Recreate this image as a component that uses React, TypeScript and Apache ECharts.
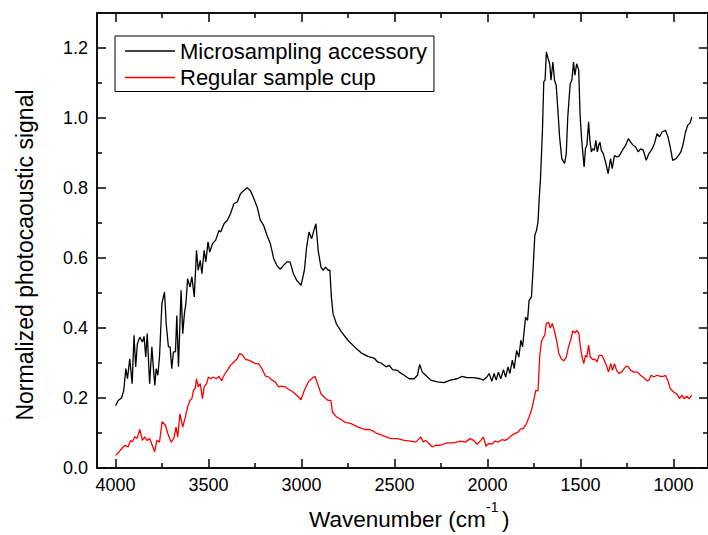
import React, { useEffect, useRef } from "react";
import * as echarts from "echarts";

const seriesNames = ["Microsampling accessory", "Regular sample cup"];

const microsamplingAccessory: [number, number][] = [
  [4000, 0.178], [3986, 0.193], [3968, 0.2], [3956, 0.222], [3945, 0.284], [3936, 0.255], [3924, 0.312], [3911, 0.241],
  [3901, 0.379], [3892, 0.289], [3883, 0.355], [3870, 0.374], [3856, 0.36], [3847, 0.376], [3838, 0.317], [3830, 0.384],
  [3817, 0.241], [3805, 0.346], [3796, 0.279], [3789, 0.236], [3782, 0.284], [3773, 0.265], [3764, 0.317], [3751, 0.47],
  [3737, 0.503], [3728, 0.412], [3716, 0.346], [3707, 0.346], [3698, 0.284], [3689, 0.332], [3678, 0.332], [3671, 0.436],
  [3662, 0.289], [3648, 0.508], [3639, 0.384], [3630, 0.441], [3622, 0.47], [3613, 0.541], [3600, 0.517], [3590, 0.546],
  [3577, 0.489], [3565, 0.622], [3556, 0.565], [3545, 0.593], [3536, 0.555], [3524, 0.622], [3515, 0.589], [3503, 0.646],
  [3494, 0.617], [3479, 0.641], [3462, 0.651], [3444, 0.679], [3435, 0.674], [3417, 0.698], [3399, 0.708], [3382, 0.727],
  [3364, 0.755], [3346, 0.76], [3328, 0.784], [3311, 0.793], [3293, 0.801], [3275, 0.792], [3257, 0.77], [3239, 0.746],
  [3222, 0.708], [3204, 0.693], [3186, 0.665], [3168, 0.641], [3150, 0.598], [3133, 0.579], [3115, 0.568], [3097, 0.579],
  [3079, 0.589], [3062, 0.589], [3044, 0.555], [3026, 0.536], [3003, 0.522], [2985, 0.565], [2973, 0.631], [2960, 0.674],
  [2946, 0.655], [2934, 0.679], [2923, 0.698], [2911, 0.622], [2896, 0.574], [2884, 0.565], [2871, 0.574], [2857, 0.565],
  [2848, 0.565], [2840, 0.489], [2831, 0.441], [2813, 0.412], [2786, 0.389], [2751, 0.365], [2715, 0.346], [2680, 0.329],
  [2644, 0.319], [2608, 0.313], [2591, 0.303], [2573, 0.3], [2555, 0.293], [2546, 0.289], [2528, 0.293], [2511, 0.281],
  [2484, 0.279], [2475, 0.274], [2448, 0.265], [2422, 0.255], [2395, 0.255], [2377, 0.265], [2365, 0.296], [2351, 0.274],
  [2333, 0.265], [2306, 0.251], [2271, 0.246], [2235, 0.244], [2200, 0.251], [2164, 0.255], [2137, 0.262], [2111, 0.258],
  [2075, 0.258], [2040, 0.255], [2022, 0.251], [2004, 0.26], [1992, 0.27], [1977, 0.248], [1965, 0.27], [1954, 0.251],
  [1942, 0.274], [1929, 0.255], [1915, 0.281], [1903, 0.26], [1890, 0.289], [1880, 0.27], [1867, 0.308], [1857, 0.284],
  [1844, 0.336], [1832, 0.317], [1821, 0.365], [1812, 0.346], [1803, 0.393], [1796, 0.431], [1785, 0.422], [1777, 0.479],
  [1764, 0.489], [1755, 0.574], [1746, 0.665], [1737, 0.679], [1729, 0.703], [1723, 0.765], [1716, 0.822], [1705, 0.965],
  [1698, 1.103], [1691, 1.108], [1684, 1.189], [1675, 1.17], [1666, 1.155], [1659, 1.108], [1649, 1.16], [1640, 1.108],
  [1631, 1.093], [1622, 1.022], [1613, 0.946], [1601, 0.884], [1586, 0.87], [1577, 0.898], [1569, 1.003], [1556, 1.098],
  [1547, 1.108], [1538, 1.16], [1531, 1.122], [1521, 1.155], [1510, 1.136], [1503, 1.012], [1494, 0.936], [1481, 0.86],
  [1474, 0.912], [1466, 0.922], [1457, 0.989], [1450, 0.936], [1442, 0.903], [1435, 0.912], [1426, 0.908], [1418, 0.936],
  [1410, 0.903], [1403, 0.922], [1396, 0.931], [1389, 0.908], [1378, 0.898], [1364, 0.87], [1352, 0.841], [1339, 0.884],
  [1330, 0.855], [1318, 0.893], [1307, 0.889], [1293, 0.891], [1275, 0.908], [1258, 0.922], [1243, 0.941], [1231, 0.931],
  [1217, 0.922], [1204, 0.917], [1190, 0.903], [1178, 0.912], [1163, 0.908], [1147, 0.879], [1133, 0.898], [1119, 0.908],
  [1103, 0.927], [1089, 0.955], [1076, 0.946], [1062, 0.96], [1044, 0.965], [1030, 0.946], [1018, 0.917], [1005, 0.879],
  [987, 0.884], [973, 0.893], [961, 0.903], [950, 0.922], [938, 0.955], [925, 0.979], [911, 0.986], [902, 1.003],
];

const regularSampleCup: [number, number][] = [
  [4000, 0.036], [3986, 0.043], [3968, 0.055], [3950, 0.065], [3933, 0.06], [3920, 0.079], [3910, 0.074], [3897, 0.089],
  [3885, 0.084], [3870, 0.11], [3856, 0.079], [3844, 0.089], [3831, 0.079], [3817, 0.084], [3803, 0.065], [3790, 0.046],
  [3778, 0.079], [3764, 0.074], [3750, 0.132], [3732, 0.122], [3719, 0.098], [3702, 0.074], [3687, 0.084], [3675, 0.117],
  [3666, 0.089], [3654, 0.155], [3639, 0.117], [3625, 0.146], [3613, 0.174], [3600, 0.193], [3590, 0.198], [3581, 0.222],
  [3572, 0.227], [3565, 0.255], [3556, 0.232], [3545, 0.241], [3533, 0.198], [3524, 0.232], [3511, 0.241], [3501, 0.26],
  [3488, 0.255], [3474, 0.26], [3458, 0.255], [3444, 0.262], [3430, 0.249], [3417, 0.265], [3399, 0.279], [3382, 0.294],
  [3364, 0.303], [3346, 0.312], [3334, 0.327], [3319, 0.324], [3302, 0.31], [3284, 0.308], [3266, 0.303], [3248, 0.298],
  [3231, 0.298], [3213, 0.284], [3195, 0.263], [3177, 0.26], [3159, 0.251], [3142, 0.246], [3124, 0.232], [3106, 0.234],
  [3088, 0.232], [3071, 0.225], [3053, 0.22], [3035, 0.212], [3017, 0.203], [3003, 0.195], [2985, 0.222], [2964, 0.246],
  [2946, 0.255], [2928, 0.262], [2914, 0.241], [2896, 0.212], [2879, 0.203], [2857, 0.193], [2843, 0.193], [2834, 0.16],
  [2813, 0.146], [2786, 0.138], [2768, 0.131], [2733, 0.127], [2697, 0.117], [2662, 0.11], [2635, 0.11], [2608, 0.103],
  [2591, 0.098], [2555, 0.091], [2520, 0.084], [2484, 0.084], [2448, 0.079], [2413, 0.077], [2386, 0.074], [2368, 0.084],
  [2360, 0.089], [2345, 0.074], [2333, 0.079], [2315, 0.07], [2297, 0.06], [2280, 0.065], [2253, 0.065], [2217, 0.072],
  [2182, 0.072], [2146, 0.077], [2120, 0.074], [2093, 0.084], [2075, 0.079], [2057, 0.068], [2036, 0.079], [2022, 0.089],
  [2009, 0.062], [1995, 0.07], [1977, 0.068], [1960, 0.077], [1942, 0.074], [1924, 0.081], [1906, 0.079], [1889, 0.084],
  [1871, 0.093], [1853, 0.098], [1835, 0.103], [1823, 0.112], [1809, 0.112], [1791, 0.127], [1777, 0.146], [1764, 0.165],
  [1752, 0.193], [1741, 0.222], [1729, 0.22], [1720, 0.317], [1711, 0.36], [1702, 0.372], [1693, 0.379], [1684, 0.413],
  [1672, 0.416], [1663, 0.4], [1652, 0.413], [1640, 0.39], [1627, 0.36], [1617, 0.327], [1604, 0.312], [1590, 0.306],
  [1577, 0.317], [1565, 0.346], [1551, 0.37], [1542, 0.392], [1529, 0.386], [1521, 0.393], [1510, 0.386], [1501, 0.346],
  [1492, 0.317], [1483, 0.298], [1474, 0.322], [1467, 0.317], [1457, 0.351], [1448, 0.317], [1435, 0.31], [1421, 0.31],
  [1412, 0.303], [1400, 0.322], [1386, 0.322], [1373, 0.308], [1361, 0.293], [1350, 0.274], [1338, 0.298], [1329, 0.279],
  [1318, 0.298], [1306, 0.279], [1293, 0.27], [1279, 0.274], [1266, 0.284], [1254, 0.291], [1243, 0.289], [1231, 0.279],
  [1213, 0.274], [1195, 0.274], [1178, 0.265], [1160, 0.258], [1142, 0.249], [1133, 0.251], [1121, 0.265], [1106, 0.26],
  [1089, 0.265], [1071, 0.262], [1053, 0.262], [1044, 0.265], [1032, 0.251], [1018, 0.227], [1000, 0.217], [982, 0.211],
  [968, 0.198], [955, 0.208], [943, 0.198], [929, 0.205], [916, 0.198], [902, 0.208],
];

const xMajorTicks = [1000, 1500, 2000, 2500, 3000, 3500, 4000];
const xMinorTicks = [1250, 1750, 2250, 2750, 3250, 3750];
const yMajorTicks = [0, 0.2, 0.4, 0.6, 0.8, 1.0, 1.2];
const yMinorTicks = [0.1, 0.3, 0.5, 0.7, 0.9, 1.1];

const FONT = "'Liberation Sans', Arial, sans-serif";
const AXIS_COLOR = "#000";

function makeXAxis(position: string, ticks: number[], len: number, labels: boolean) {
  return {
    type: "value",
    position,
    min: 815,
    max: 4100,
    inverse: true,
    axisLine: { show: true, onZero: false, lineStyle: { color: AXIS_COLOR, width: 1.5 } },
    axisTick: { show: true, inside: true, length: len, customValues: ticks, lineStyle: { color: AXIS_COLOR, width: 1.5 } },
    axisLabel: labels
      ? { show: true, customValues: ticks, margin: 8, fontSize: 18, color: "#000", fontFamily: FONT, formatter: (v: number) => String(v) }
      : { show: false },
    splitLine: { show: false },
  };
}

function makeYAxis(position: string, ticks: number[], len: number, labels: boolean) {
  return {
    type: "value",
    position,
    min: 0,
    max: 1.3,
    axisLine: { show: true, onZero: false, lineStyle: { color: AXIS_COLOR, width: 1.5 } },
    axisTick: { show: true, inside: true, length: len, customValues: ticks, lineStyle: { color: AXIS_COLOR, width: 1.5 } },
    axisLabel: labels
      ? { show: true, customValues: ticks, margin: 9, fontSize: 18, color: "#000", fontFamily: FONT, formatter: (v: number) => v.toFixed(1) }
      : { show: false },
    splitLine: { show: false },
  };
}

export default function App() {
  const ref = useRef<HTMLDivElement>(null);
  useEffect(() => {
    if (!ref.current) return;
    const chart = echarts.init(ref.current, undefined, { renderer: "svg" });
    chart.setOption({
      animation: false,
      backgroundColor: "#fff",
      textStyle: { fontFamily: FONT },
      grid: { left: 97, right: -5, top: 13, bottom: 67 },
      xAxis: [
        makeXAxis("bottom", xMajorTicks, 9, true),
        makeXAxis("bottom", xMinorTicks, 5, false),
        makeXAxis("top", xMajorTicks, 9, false),
        makeXAxis("top", xMinorTicks, 5, false),
      ],
      yAxis: [
        makeYAxis("left", yMajorTicks, 9, true),
        makeYAxis("left", yMinorTicks, 5, false),
        makeYAxis("right", yMajorTicks, 9, false),
        makeYAxis("right", yMinorTicks, 5, false),
      ],
      legend: {
        orient: "vertical",
        left: 115,
        top: 36,
        data: seriesNames,
        icon: "rect",
        itemWidth: 50,
        itemHeight: 1.3,
        itemGap: 4.5,
        padding: [4, 7, 3, 10],
        borderColor: "#000",
        borderWidth: 1,
        textStyle: { fontSize: 22, color: "#000", fontFamily: FONT },
      },
      graphic: [
        {
          type: "text",
          x: 25,
          y: 255,
          rotation: Math.PI / 2,
          style: { text: "Normalized photocaoustic signal", fontSize: 23, fontFamily: FONT, fill: "#000", textAlign: "center", textVerticalAlign: "middle" },
        },
        {
          type: "text",
          x: 309,
          y: 519,
          style: { text: "Wavenumber (cm", fontSize: 22.5, fontFamily: FONT, fill: "#000", textAlign: "left", textVerticalAlign: "middle" },
        },
        {
          type: "text",
          x: 486,
          y: 507,
          style: { text: "-1", fontSize: 14, fontFamily: FONT, fill: "#000", textAlign: "left", textVerticalAlign: "middle" },
        },
        {
          type: "text",
          x: 502,
          y: 519,
          style: { text: ")", fontSize: 22.5, fontFamily: FONT, fill: "#000", textAlign: "left", textVerticalAlign: "middle" },
        },
      ],
      series: [
        {
          name: seriesNames[0],
          type: "line",
          xAxisIndex: 0,
          yAxisIndex: 0,
          data: microsamplingAccessory,
          showSymbol: false,
          symbol: "none",
          lineStyle: { color: "#000", width: 1.3 },
          itemStyle: { color: "#000" },
        },
        {
          name: seriesNames[1],
          type: "line",
          xAxisIndex: 0,
          yAxisIndex: 0,
          data: regularSampleCup,
          showSymbol: false,
          symbol: "none",
          lineStyle: { color: "#ff0000", width: 1.3 },
          itemStyle: { color: "#ff0000" },
        },
      ],
    });
    return () => chart.dispose();
  }, []);
  return <div ref={ref} style={{ position: "absolute", left: 0, top: 0, width: 708, height: 535 }} />;
}
